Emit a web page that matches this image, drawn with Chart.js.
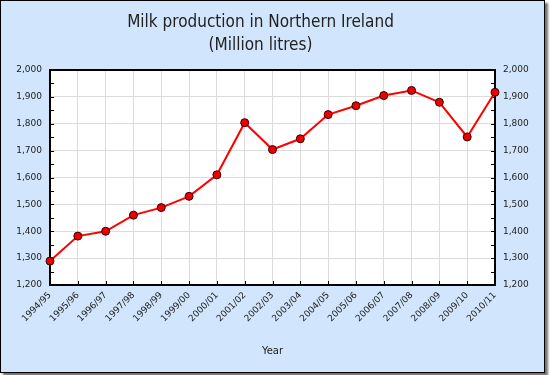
<!DOCTYPE html>
<html lang="en">
<head>
    <meta charset="UTF-8">
    <title>Milk production in Northern Ireland</title>
    <script src="https://cdn.jsdelivr.net/npm/chart.js"></script>
    <style>
        body { margin: 0; background: #fff; }
        #box {
            position: absolute; left: 0; top: 0;
            width: 543px; height: 371px;
            border: 1px solid #000;
            background: #d1e6fc;
            box-shadow: 3px 3px 2px rgba(0, 0, 0, 0.55);
        }
    </style>
</head>
<body>
    <div id="box"><canvas id="myChart" width="543" height="371"></canvas></div>
    <script>
        const years = ['1994/95', '1995/96', '1996/97', '1997/98', '1998/99', '1999/00', '2000/01', '2001/02',
                       '2002/03', '2003/04', '2004/05', '2005/06', '2006/07', '2007/08', '2008/09', '2009/10', '2010/11'];
        const milk = [1289, 1382, 1400, 1460, 1488, 1530, 1610, 1804, 1704, 1744, 1834, 1867, 1905, 1924, 1880, 1751, 1917];
        const yMin = 1200, yMax = 2000, yStep = 100, minorStep = 50;

        const titleFont = 'DejaVu Sans Condensed, DejaVu Sans, sans-serif';
        const font = 'DejaVu Sans, Verdana, sans-serif';
        const fmt = v => v.toLocaleString('en-US');

        // the original title sits a little left of centre
        const titleShift = {
            id: 'titleShift',
            afterLayout(chart) {
                if (chart.titleBlock) chart.titleBlock.right -= 24;
            }
        };

        // plot frame + small tick marks pointing into the plot
        const framePlugin = {
            id: 'frame',
            beforeDatasetsDraw(chart) {
                const { ctx, chartArea: a, scales } = chart;
                ctx.save();
                ctx.strokeStyle = '#000';
                ctx.lineWidth = 1;
                ctx.beginPath();
                for (let v = yMin; v <= yMax; v += minorStep) {
                    const y = Math.round(scales.y.getPixelForValue(v)) + 0.5;
                    ctx.moveTo(a.left, y); ctx.lineTo(a.left + 4, y);
                    ctx.moveTo(a.right, y); ctx.lineTo(a.right - 4, y);
                }
                years.forEach((_, i) => {
                    const x = Math.round(scales.x.getPixelForValue(i)) + 0.5;
                    ctx.moveTo(x, a.bottom); ctx.lineTo(x, a.bottom - 4);
                });
                ctx.stroke();
                ctx.lineWidth = 2;
                ctx.strokeRect(a.left, a.top, a.right - a.left, a.bottom - a.top);
                ctx.restore();
            }
        };

        const plotBg = {
            id: 'plotBg',
            beforeDraw(chart) {
                const { ctx, chartArea: a } = chart;
                ctx.save();
                ctx.fillStyle = '#fff';
                ctx.fillRect(a.left, a.top, a.right - a.left, a.bottom - a.top);
                ctx.restore();
            }
        };

        new Chart(document.getElementById('myChart').getContext('2d'), {
            type: 'line',
            data: {
                labels: years,
                datasets: [{
                    label: 'Milk production',
                    data: milk,
                    borderColor: '#ff0000',
                    borderWidth: 2,
                    pointRadius: 4,
                    pointBackgroundColor: '#ee0000',
                    pointBorderColor: '#300',
                    pointBorderWidth: 1,
                    tension: 0,
                    clip: false
                }]
            },
            options: {
                responsive: false,
                animation: false,
                layout: { padding: 0 },
                plugins: {
                    legend: { display: false },
                    tooltip: { enabled: false },
                    title: {
                        display: true,
                        text: ['Milk production in Northern Ireland', '(Million litres)'],
                        color: '#222',
                        font: { family: titleFont, size: 17, weight: 'normal', lineHeight: '23px' },
                        padding: { top: 10, bottom: 13 }
                    }
                },
                scales: {
                    x: {
                        offset: false,
                        grid: { color: '#dcdcdc', drawTicks: false },
                        border: { display: false },
                        ticks: {
                            color: '#222', font: { family: font, size: 9 },
                            minRotation: 45, maxRotation: 45, padding: 5, autoSkip: false
                        },
                        title: {
                            display: true, text: 'Year', color: '#222',
                            font: { family: font, size: 10 },
                            padding: { top: 4, bottom: 15 }
                        },
                        afterFit(s) { s.height = 87; }
                    },
                    y: {
                        position: 'left',
                        min: yMin, max: yMax,
                        grid: { color: '#dcdcdc', drawTicks: false },
                        border: { display: false },
                        ticks: { stepSize: yStep, color: '#222', font: { family: font, size: 9 }, padding: 8, callback: fmt },
                        afterFit(s) { s.width = 49; }
                    },
                    y2: {
                        position: 'right',
                        min: yMin, max: yMax,
                        grid: { display: false, drawTicks: false },
                        border: { display: false },
                        ticks: { stepSize: yStep, color: '#222', font: { family: font, size: 9 }, padding: 8, callback: fmt },
                        afterFit(s) { s.width = 49; }
                    }
                }
            },
            plugins: [plotBg, framePlugin, titleShift]
        });
    </script>
</body>
</html>
